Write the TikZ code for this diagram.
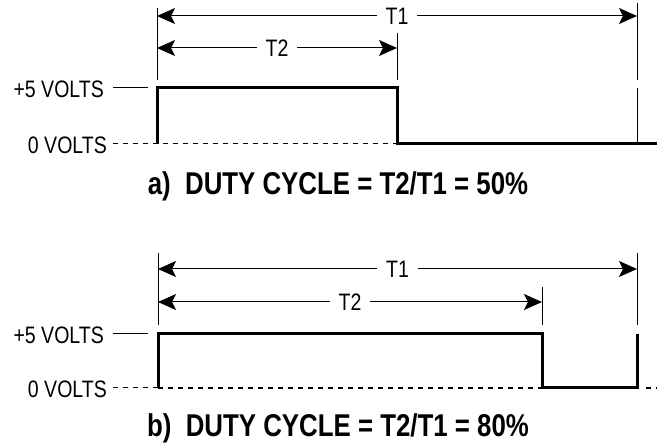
\documentclass[tikz,border=0pt]{standalone}
\usepackage{fontspec}
\setmainfont{Liberation Sans}[FakeStretch=0.82]
\usetikzlibrary{arrows.meta, positioning}

\begin{document}
\begin{tikzpicture}[x=1pt, y=-1pt, line cap=butt,
    dimline/.style={line width=1pt, {Stealth[length=18pt, width=16pt, inset=4pt]}-{Stealth[length=18pt, width=16pt, inset=4pt]}},
    extline/.style={line width=1pt},
    pulse/.style={line width=3pt, line join=miter},
    zeroline/.style={line width=1pt, dash pattern=on 5pt off 5pt},
    lvl/.style={anchor=east, inner sep=0pt, font=\fontsize{23.8}{26}\selectfont},
    tlab/.style={midway, fill=white, inner xsep=9pt, inner ysep=0pt, font=\fontsize{23.8}{26}\selectfont},
    ttl/.style={inner sep=0pt, font=\fontsize{31.5}{34}\selectfont\bfseries}]
  \useasboundingbox (0,0) rectangle (657,446);

  % a) 50% duty cycle
  \coordinate (a0) at (157,144); \coordinate (a1) at (157,88);
  \coordinate (a2) at (397,88);  \coordinate (a3) at (397,144);
  \coordinate (aend) at (657,144);
  \coordinate (aLtop) at (157,8);  \coordinate (aLbot) at (157,80);
  \coordinate (aMtop) at (397,33); \coordinate (aMbot) at (397,80);
  \coordinate (aRtop) at (637,3);  \coordinate (aRbot) at (637,80);
  \coordinate (aRlo) at (637,88);  \coordinate (aRz) at (637,144);
  \coordinate (aT1l) at (157,16);  \coordinate (aT1r) at (637,16);
  \coordinate (aT2l) at (157,48);  \coordinate (aT2r) at (397,48);
  \node[lvl] (ahigh) at (104,89) {+5 VOLTS};
  \node[lvl] (alow) at (107,145) {0 VOLTS};
  \coordinate (ahighe) at (148,88);
  \draw[extline] (ahigh.east) ++(9,-1) coordinate (ahighs) -- (ahighe);
  \draw[zeroline] (alow.east) ++(6,-1) coordinate (alows) -- (a3);
  \draw[extline] (aLtop) -- (aLbot) (aMtop) -- (aMbot) (aRtop) -- (aRbot) (aRlo) -- (aRz);
  \draw[dimline] (aT1l) -- (aT1r) node[tlab] (aT1) {T1};
  \draw[dimline] (aT2l) -- (aT2r) node[tlab] (aT2) {T2};
  \draw[pulse] (a0) -- (a1) -- (a2) -- (a3) -- (aend);
  \node[ttl] (atitle) at (338,186) {a)\ \ DUTY CYCLE = T2/T1 = 50\%};

  % b) 80% duty cycle
  \coordinate (b0) at (158,388); \coordinate (b1) at (158,334);
  \coordinate (b2) at (542,334); \coordinate (b3) at (542,388);
  \coordinate (b4) at (637,388); \coordinate (b5) at (637,334);
  \coordinate (bLtop) at (158,253); \coordinate (bLbot) at (158,325);
  \coordinate (bMtop) at (542,287); \coordinate (bMbot) at (542,325);
  \coordinate (bRtop) at (637,253); \coordinate (bRbot) at (637,325);
  \coordinate (bT1l) at (158,269);  \coordinate (bT1r) at (637,269);
  \coordinate (bT2l) at (158,302);  \coordinate (bT2r) at (542,302);
  \coordinate (btail) at (657,388);
  \node[lvl] (bhigh) at (104,335) {+5 VOLTS};
  \node[lvl] (blow) at (107,389) {0 VOLTS};
  \coordinate (bhighe) at (148,334);
  \draw[extline] (bhigh.east) ++(9,-1) coordinate (bhighs) -- (bhighe);
  \draw[zeroline] (blow.east) ++(6,-1) coordinate (blows) -- (b0);
  \draw[zeroline, line width=2.2pt] (b0) -- (b3);
  \draw[zeroline, line width=2.2pt] (b4) ++(9,0) coordinate (btails) -- (btail);
  \draw[extline] (bLtop) -- (bLbot) (bMtop) -- (bMbot) (bRtop) -- (bRbot);
  \draw[dimline] (bT1l) -- (bT1r) node[tlab] (bT1) {T1};
  \draw[dimline] (bT2l) -- (bT2r) node[tlab] (bT2) {T2};
  \draw[pulse] (b0) -- (b1) -- (b2) -- (b3) -- (b4) -- (b5);
  \node[ttl] (btitle) at (338,428) {b)\ \ DUTY CYCLE = T2/T1 = 80\%};
\end{tikzpicture}
\end{document}
